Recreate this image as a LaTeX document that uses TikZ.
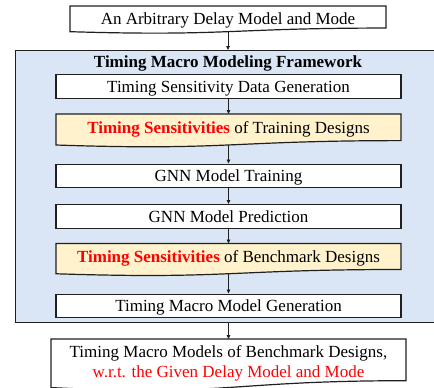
\documentclass[tikz,border=0pt]{standalone}
\usepackage{fontspec}
\setmainfont{Liberation Serif}
\usetikzlibrary{arrows.meta}
\definecolor{frameblue}{HTML}{DAE5F5}
\definecolor{hlyellow}{HTML}{FFF2CC}
\definecolor{hlred}{HTML}{FF0000}
\definecolor{edgec}{HTML}{202020}

% document-style box: flat top, wavy bottom; node spans the box down to the wave centre
% #1 name, #2 fill, #3 left, #4 top, #5 right, #6 height, #7 extra node keys, #8 text
\newcommand\docnode[8]{%
  \path[draw=edgec,line width=1.2pt,fill=#2]
    (#3,#4) -- (#5,#4) -- (#5,{#4+0.802*#6})
    .. controls ({(#3+#5)/2},{#4+0.802*#6}) and ({(#3+#5)/2},{#4+1.107*#6}) ..
    (#3,{#4+0.934*#6}) -- cycle;
  \node[inner sep=0pt,minimum width={#5-#3},minimum height={0.933*#6},
        anchor=north,align=center,#7] (#1) at ({(#3+#5)/2},#4) {#8};}

\begin{document}
\begin{tikzpicture}[x=1pt,y=-1pt,
  font=\fontsize{17}{20}\selectfont,
  stepbox/.style={draw=edgec,line width=1.2pt,fill=white,inner sep=0pt,
    minimum width=345pt,minimum height=23.5pt,anchor=north,
    text height=14.5pt,text depth=2.5pt},
  flow/.style={draw=edgec,line width=0.8pt,-{Triangle[length=4pt,width=3.6pt]}}]
\useasboundingbox (0,0) rectangle (434,388);
\clip (0,0) rectangle (434,388);

% outer framework panel
\node[draw=edgec,line width=1.2pt,fill=frameblue,inner sep=0pt,
      minimum width=430pt,minimum height=272pt,anchor=north west] (frame) at (15,50) {};
\node[font=\fontsize{17}{20}\selectfont\bfseries] (title) at (228,63.5) {Timing Macro Modeling Framework};

% input
\docnode{input}{white}{70}{6}{386}{27.5}{text height=13.4pt,text depth=3pt}{An Arbitrary Delay Model and Mode}

% framework steps
\node[stepbox] (gen) at (228.5,74) {Timing Sensitivity Data Generation};
\docnode{train}{hlyellow}{56}{114}{401}{33.2}{text height=11.6pt,text depth=4pt}{\textcolor{hlred}{\textbf{Timing Sensitivities}} of Training Designs}
\node[stepbox] (gnnt) at (228.5,163.5) {GNN Model Training};
\node[stepbox] (gnnp) at (228.5,204) {GNN Model Prediction};
\docnode{bench}{hlyellow}{56}{243.5}{401}{32.4}{text height=11pt,text depth=4.5pt}{\textcolor{hlred}{\textbf{Timing Sensitivities}} of Benchmark Designs}
\node[stepbox] (macro) at (228.5,293.5) {Timing Macro Model Generation};

% output
\docnode{out}{white}{51}{339}{406}{52}{}{\raisebox{3.5pt}{\parbox{355pt}{\centering Timing Macro Models of Benchmark Designs,\\
  \textcolor{hlred}{w.r.t. the Given Delay Model and Mode}}}}

% connectors
\draw[flow] (input.south) -- (input.south |- frame.north);
\draw[flow] (gen.south) -- (gen.south |- train.north);
\draw[flow] (train.south) -- (train.south |- gnnt.north);
\draw[flow] (gnnt.south) -- (gnnt.south |- gnnp.north);
\draw[flow] (gnnp.south) -- (gnnp.south |- bench.north);
\draw[flow] (bench.south) -- (bench.south |- macro.north);
\draw[flow] (out.north |- frame.south) -- (out.north);
\end{tikzpicture}
\end{document}
